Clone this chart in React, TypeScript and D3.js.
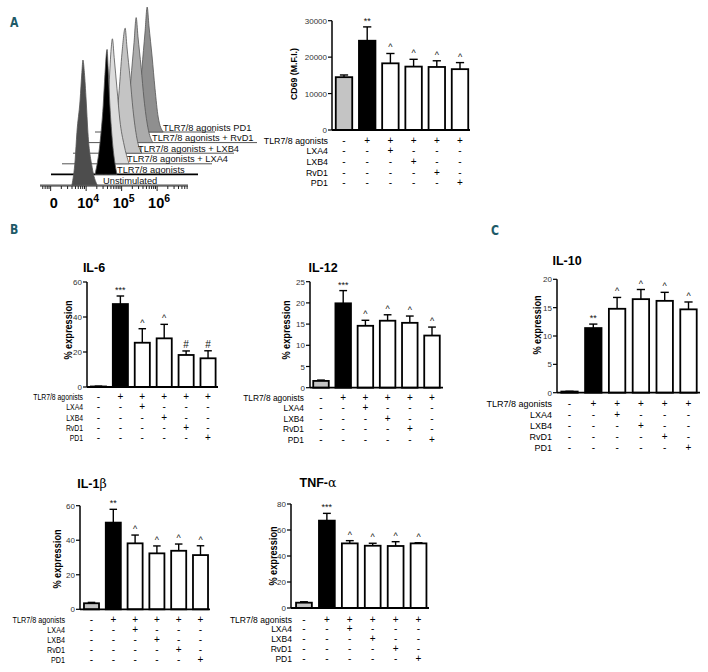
import React from "react";
import * as d3 from "d3";

// ---------- DATA ----------
const groups = ["Unstimulated", "TLR7/8", "TLR7/8+LXA4", "TLR7/8+LXB4", "TLR7/8+RvD1", "TLR7/8+PD1"];
const rowLabels = ["TLR7/8 agonists", "LXA4", "LXB4", "RvD1", "PD1"];
const signTLR = ["-", "+", "+", "+", "+", "+"];
const signLXA4 = ["-", "-", "+", "-", "-", "-"];
const signLXB4 = ["-", "-", "-", "+", "-", "-"];
const signRvD1 = ["-", "-", "-", "-", "+", "-"];
const signPD1 = ["-", "-", "-", "-", "-", "+"];
const signRows = [signTLR, signLXA4, signLXB4, signRvD1, signPD1];

const cd69Mean = [14500, 24500, 18300, 17400, 17300, 16700];
const cd69Sem = [600, 3800, 2700, 2000, 1700, 1800];
const cd69Marks = ["", "**", "^", "^", "^", "^"];
const cd69Ticks = [0, 10000, 20000, 30000];

const il6Mean = [0.3, 47.4, 25.3, 27.8, 18.3, 16.4];
const il6Sem = [0.2, 4.6, 8.0, 8.0, 2.3, 4.3];
const il6Marks = ["", "***", "^", "^", "#", "#"];
const il6Ticks = [0, 20, 40, 60];

const il12Mean = [1.6, 19.9, 14.6, 15.8, 15.3, 12.3];
const il12Sem = [0.2, 3.0, 1.3, 1.4, 1.6, 2.0];
const il12Marks = ["", "***", "^", "^", "^", "^"];
const il12Ticks = [0, 5, 10, 15, 20, 25];

const il10Mean = [0.2, 11.4, 14.8, 16.5, 16.2, 14.7];
const il10Sem = [0.05, 0.7, 2.0, 1.7, 1.5, 1.3];
const il10Marks = ["", "**", "^", "^", "^", "^"];
const il10Ticks = [0, 5, 10, 15, 20];

const il1bMean = [3.5, 50.2, 38.2, 32.4, 33.9, 31.4];
const il1bSem = [0.5, 7.7, 4.8, 4.3, 3.9, 5.4];
const il1bMarks = ["", "**", "^", "^", "^", "^"];
const il1bTicks = [0, 20, 40, 60];

const tnfMean = [4.1, 67.2, 49.7, 47.9, 47.7, 49.7];
const tnfSem = [0.7, 5.6, 2.1, 1.9, 3.3, 0.5];
const tnfMarks = ["", "***", "^", "^", "^", "^"];
const tnfTicks = [0, 20, 40, 60, 80];

// flow cytometry histograms: [log10 fluorescence, % of max]
const histUnstim = [[3.6, 0], [3.69, 20], [3.74, 42], [3.83, 68], [3.88, 90], [3.91, 100], [3.95, 90], [4.0, 68], [4.05, 42], [4.17, 14], [4.31, 0]];
const histTLR = [[3.94, 0], [4.08, 25], [4.17, 55], [4.22, 80], [4.28, 100], [4.31, 85], [4.36, 55], [4.42, 30], [4.56, 0]];
const histLXA4 = [[3.86, 0], [3.94, 25], [4.02, 60], [4.08, 90], [4.12, 100], [4.17, 85], [4.25, 60], [4.33, 35], [4.45, 15], [4.59, 0]];
const histLXB4 = [[3.83, 0], [3.91, 20], [4.0, 50], [4.08, 80], [4.17, 100], [4.22, 85], [4.31, 60], [4.39, 35], [4.5, 12], [4.64, 0]];
const histRvD1 = [[3.83, 0], [3.94, 20], [4.02, 50], [4.11, 80], [4.17, 100], [4.22, 85], [4.31, 60], [4.39, 35], [4.5, 12], [4.64, 0]];
const histPD1 = [[3.83, 0], [3.94, 20], [4.02, 50], [4.11, 80], [4.17, 100], [4.22, 85], [4.31, 60], [4.39, 35], [4.48, 12], [4.62, 0]];
const histSeries = [histUnstim, histTLR, histLXA4, histLXB4, histRvD1, histPD1];
const histLabels = ["Unstimulated", "TLR7/8 agonists", "TLR7/8 agonists + LXA4", "TLR7/8 agonists + LXB4", "TLR7/8 agonists + RvD1", "TLR7/8 agonists  PD1"];
const histTickLabels = [
  { u: 3.09, base: "0", sup: "" },
  { u: 4, base: "10", sup: "4" },
  { u: 5, base: "10", sup: "5" },
  { u: 6, base: "10", sup: "6" },
];

// ---------- STYLE ----------
const FONT = "'Liberation Sans', Arial, Helvetica, sans-serif";
const TEAL = "#1d5a68";
const barFills = ["#c4c4c4", "#000000", "#ffffff", "#ffffff", "#ffffff", "#ffffff"];
const histFills = ["#4d4d4d", "#000000", "#dcdcdc", "#c4c4c4", "#ababab", "#8f8f8f"];

type PanelProps = {
  means: number[];
  sems: number[];
  marks: string[];
  ticks: number[];
  yMax: number;
  x0: number;
  x1: number;
  axisX: number;
  axisEnd: number;
  yBottom: number;
  yTop: number;
  barFrac: number;
  title?: React.ReactNode;
  titleX?: number;
  titleY?: number;
  yLabel: string;
  yLabelX: number;
  yLabelY: number;
  yLabelSize: number;
  rowRight: number;
  rowY0: number;
  rowStep: number;
  labelScale: number;
};

function BarPanel(p: PanelProps) {
  const x = d3.scaleBand<string>().domain(groups).range([p.x0, p.x1]).paddingInner(1 - p.barFrac).paddingOuter((1 - p.barFrac) / 2);
  const y = d3.scaleLinear().domain([0, p.yMax]).range([p.yBottom, p.yTop]);
  const bw = x.bandwidth();
  return (
    <g fontFamily={FONT}>
      {p.title && (
        <text x={p.titleX} y={p.titleY} textAnchor="middle" fontWeight="bold" fontSize={12.5}>
          {p.title}
        </text>
      )}
      <text transform={`translate(${p.yLabelX},${p.yLabelY}) rotate(-90) scale(0.92,1)`} textAnchor="middle" fontWeight="bold" fontSize={p.yLabelSize}>
        {p.yLabel}
      </text>
      {/* bars */}
      {groups.map((g, i) => {
        const bx = x(g)!;
        const top = y(p.means[i]);
        const et = y(p.means[i] + p.sems[i]);
        const cx = bx + bw / 2;
        return (
          <g key={g}>
            <line x1={cx} x2={cx} y1={top} y2={et} stroke="#000" strokeWidth={1.4} />
            <line x1={cx - bw * 0.25} x2={cx + bw * 0.25} y1={et} y2={et} stroke="#000" strokeWidth={1.4} />
            <rect x={bx} y={top} width={bw} height={Math.max(0, p.yBottom - top)} fill={barFills[i]} stroke="#000" strokeWidth={1.8} />
            {p.marks[i] && (
              <text x={cx} y={et - 3} textAnchor="middle" fontSize={p.marks[i] === "#" ? 10 : 9} fill="#111">
                {p.marks[i]}
              </text>
            )}
          </g>
        );
      })}
      {/* axes */}
      <line x1={p.axisX} x2={p.axisX} y1={p.yBottom} y2={p.yTop} stroke="#000" strokeWidth={1.5} />
      <line x1={p.axisX} x2={p.axisEnd} y1={p.yBottom} y2={p.yBottom} stroke="#000" strokeWidth={1.8} />
      {p.ticks.map((t) => (
        <g key={t}>
          <line x1={p.axisX - 4} x2={p.axisX} y1={y(t)} y2={y(t)} stroke="#000" strokeWidth={1.2} />
          <text x={p.axisX - 5} y={y(t) + 3} textAnchor="end" fontSize={8} fill="#333">
            {t}
          </text>
        </g>
      ))}
      {/* condition table */}
      {rowLabels.map((lab, r) => {
        const ty = p.rowY0 + r * p.rowStep + 3.5;
        return (
          <g key={lab}>
            <text transform={`translate(${p.rowRight},${ty}) scale(${p.labelScale},1)`} textAnchor="end" fontSize={9.5}>
              {lab}
            </text>
            {groups.map((g, i) => (
              <text key={g} x={x(g)! + bw / 2} y={ty} textAnchor="middle" fontSize={10}>
                {signRows[r][i]}
              </text>
            ))}
          </g>
        );
      })}
    </g>
  );
}

function Histograms() {
  const xs = d3.scaleLinear().domain([2.7, 6.87]).range([40, 188]);
  const hs = d3.scaleLinear().domain([0, 100]).range([0, 125]);
  const baseY = (i: number) => 185 - 10.6 * i;
  const offX = (i: number) => 11 * i;
  const lineEnds = [188, 198, 212, 234, 257, 215];
  const labelX = [103, 117, 127, 138, 152, 163];
  const order = [5, 4, 3, 2, 1, 0];
  const minor: { u: number; major: boolean }[] = [];
  for (let d = 2; d <= 6; d++) {
    for (let m = 1; m <= 9; m++) {
      const u = d + Math.log10(m);
      if (u >= 2.7 && u <= 6.87) minor.push({ u, major: m === 1 });
    }
  }
  return (
    <g fontFamily={FONT}>
      {order.map((i) => {
        const area = d3
          .area<number[]>()
          .x((d) => xs(d[0]) + offX(i))
          .y0(baseY(i))
          .y1((d) => baseY(i) - hs(d[1]))
          .curve(d3.curveMonotoneX);
        return (
          <g key={i}>
            <line x1={40 + offX(i)} x2={lineEnds[i]} y1={baseY(i)} y2={baseY(i)} stroke={i === 1 ? "#000" : "#555"} strokeWidth={i === 1 ? 1.6 : 1} />
            <path d={area(histSeries[i]) || ""} fill={histFills[i]} stroke="#555" strokeWidth={0.8} />
          </g>
        );
      })}
      {order.map((i) => (
        <text key={"l" + i} x={labelX[i]} y={baseY(i) - 1.5} fontSize={9.3} fill="#111">
          {histLabels[i]}
        </text>
      ))}
      <line x1={40} x2={188} y1={186} y2={186} stroke="#222" strokeWidth={1} />
      {minor.map((t, k) => (
        <line key={k} x1={xs(t.u)} x2={xs(t.u)} y1={186} y2={186 + (t.major ? 5 : 3)} stroke="#222" strokeWidth={1} />
      ))}
      {histTickLabels.map((t) => (
        <text key={t.base + t.sup} x={xs(t.u) - (t.sup ? 9 : 0)} y={208} textAnchor={t.sup ? "start" : "middle"} fontWeight="bold" fontSize={14.5}>
          {t.base}
          {t.sup && (
            <tspan dy={-6} fontSize={10.5}>
              {t.sup}
            </tspan>
          )}
        </text>
      ))}
    </g>
  );
}

export default function App() {
  return (
    <svg width={708} height={672} style={{ position: "absolute", left: 0, top: 0, background: "#fff" }}>
      <rect width={708} height={672} fill="#fff" />
      {/* panel letters */}
      <g fontFamily="'DejaVu Sans', sans-serif" fontWeight="bold" fill={TEAL} fontSize={14}>
        <text transform="translate(10,27) scale(0.78,1)">A</text>
        <text transform="translate(10,234) scale(0.78,1)">B</text>
        <text transform="translate(491,235) scale(0.78,1)">C</text>
      </g>
      <Histograms />
      <BarPanel
        means={cd69Mean} sems={cd69Sem} marks={cd69Marks} ticks={cd69Ticks} yMax={30000}
        x0={332.4} x1={471.6} axisX={332} axisEnd={470} yBottom={130} yTop={20.7} barFrac={0.71}
        yLabel="CD69 (M.F.I.)" yLabelX={297} yLabelY={74} yLabelSize={9.5}
        rowRight={328} rowY0={140} rowStep={10.7} labelScale={0.93}
      />
      <BarPanel
        means={il6Mean} sems={il6Sem} marks={il6Marks} ticks={il6Ticks} yMax={60}
        x0={87.5} x1={219} axisX={87} axisEnd={218} yBottom={387} yTop={282} barFrac={0.69}
        title="IL-6" titleX={94} titleY={272}
        yLabel="% expression" yLabelX={72} yLabelY={330} yLabelSize={10}
        rowRight={83} rowY0={396.5} rowStep={10.3} labelScale={0.72}
      />
      <BarPanel
        means={il12Mean} sems={il12Sem} marks={il12Marks} ticks={il12Ticks} yMax={25}
        x0={309.9} x1={443.1} axisX={310} axisEnd={443} yBottom={387.7} yTop={281.7} barFrac={0.7}
        title="IL-12" titleX={323} titleY={272}
        yLabel="% expression" yLabelX={290} yLabelY={330} yLabelSize={10}
        rowRight={304} rowY0={397} rowStep={10.5} labelScale={0.88}
      />
      <BarPanel
        means={il10Mean} sems={il10Sem} marks={il10Marks} ticks={il10Ticks} yMax={20}
        x0={557.6} x1={700.4} axisX={557} axisEnd={700} yBottom={392.7} yTop={279.3} barFrac={0.69}
        title="IL-10" titleX={567} titleY={265}
        yLabel="% expression" yLabelX={541} yLabelY={325} yLabelSize={10}
        rowRight={552} rowY0={403} rowStep={11} labelScale={0.95}
      />
      <BarPanel
        means={il1bMean} sems={il1bSem} marks={il1bMarks} ticks={il1bTicks} yMax={60}
        x0={80.6} x1={211.4} axisX={80} axisEnd={210} yBottom={609.3} yTop={505.7} barFrac={0.69}
        title={<>IL-1<tspan fontFamily="'DejaVu Serif', serif" fontWeight="normal">β</tspan></>} titleX={92} titleY={488}
        yLabel="% expression" yLabelX={61} yLabelY={559} yLabelSize={10}
        rowRight={65} rowY0={619} rowStep={10} labelScale={0.76}
      />
      <BarPanel
        means={tnfMean} sems={tnfSem} marks={tnfMarks} ticks={tnfTicks} yMax={80}
        x0={292.5} x1={430} axisX={291} axisEnd={429} yBottom={608} yTop={504}
        barFrac={0.69}
        title={<>TNF-<tspan fontFamily="'DejaVu Serif', serif" fontWeight="normal">α</tspan></>} titleX={318} titleY={487}
        yLabel="% expression" yLabelX={277} yLabelY={556} yLabelSize={10}
        rowRight={292} rowY0={619} rowStep={9.8} labelScale={0.9}
      />
    </svg>
  );
}
